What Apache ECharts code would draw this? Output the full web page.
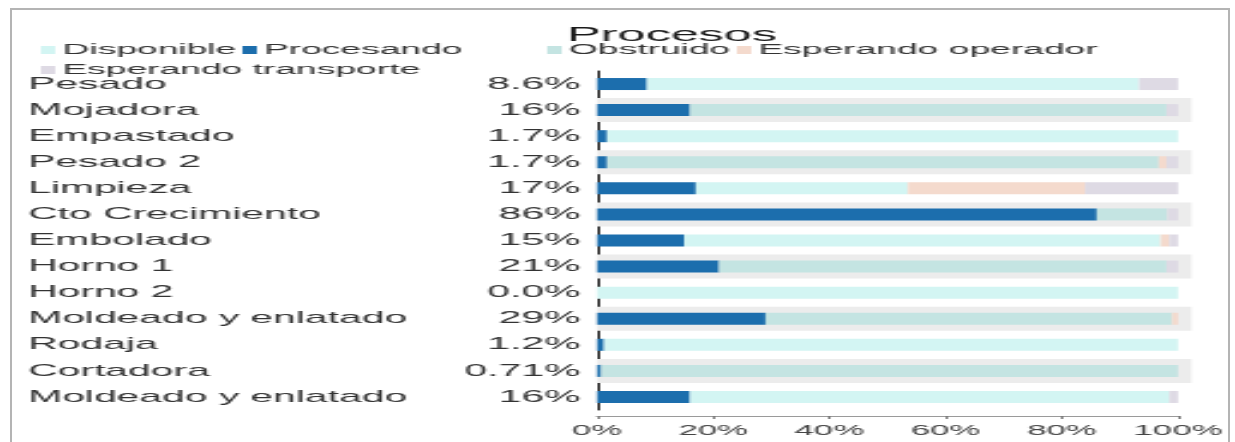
<!DOCTYPE html>
<html>
<head>
<meta charset="utf-8">
<script src="https://cdn.jsdelivr.net/npm/echarts@6/dist/echarts.min.js"></script>
<style>
  html, body { margin: 0; padding: 0; background: #fff; overflow: hidden; }
  #wrap { position: absolute; left: 0; top: 0; width: 1235px; height: 442px; }
  #chart { position: absolute; left: 0; top: 0; width: 514.6px; height: 442px; transform: scaleX(2.4); transform-origin: 0 0; }
  #frame { position: absolute; left: 10px; top: 8px; width: 1216px; height: 450px; border: 2px solid #b4b4b4; pointer-events: none; }
</style>
</head>
<body>
<div id="wrap"><div id="chart"></div><div id="frame"></div></div>
<script>
const categories = ['Pesado', 'Mojadora', 'Empastado', 'Pesado 2', 'Limpieza', 'Cto Crecimiento', 'Embolado', 'Horno 1', 'Horno 2', 'Moldeado y enlatado', 'Rodaja', 'Cortadora', 'Moldeado y enlatado'];
const procesando    = [8.6, 16, 1.7, 1.7, 17, 86, 15, 21, 0, 29, 1.2, 0.71, 16];
const disponible    = [84.7, 0, 98.3, 0, 36.5, 0, 82, 0, 100, 0, 98.8, 0, 82.5];
const obstruido     = [0, 82, 0, 95, 0, 12.2, 0, 77, 0, 70, 0, 99.29, 0];
const espOperador   = [0, 0, 0, 1.3, 30.5, 0, 1.5, 0, 0, 1, 0, 0, 0];
const espTransporte = [6.7, 2, 0, 2, 16, 1.8, 1.5, 2, 0, 0, 0, 0, 1.5];
const seriesNames = ['Disponible', 'Procesando', 'Obstruido', 'Esperando operador', 'Esperando transporte'];
const xTickValues = [0, 20, 40, 60, 80, 100];

const colors = {
  'Disponible': '#d3f5f3',
  'Procesando': '#1c6ead',
  'Obstruido': '#c4e4e2',
  'Esperando operador': '#f4dacd',
  'Esperando transporte': '#dedae4'
};
const pctLabel = v => v.toPrecision(2) + '%';
const FONT = 'Liberation Sans, Arial, sans-serif';

const chart = echarts.init(document.getElementById('chart'), null, { renderer: 'canvas' });

function legendAt(name, left, top) {
  return {
    data: [name], left: left, top: top, orient: 'horizontal', selectedMode: false,
    icon: 'rect', itemWidth: 6, itemHeight: 8, itemGap: 4, padding: 0,
    textStyle: { fontFamily: FONT, fontSize: 15.5, color: '#333', padding: [0, 0, 0, -2] }
  };
}

const stackSeries = [
  ['Procesando', procesando],
  ['Disponible', disponible],
  ['Obstruido', obstruido],
  ['Esperando operador', espOperador],
  ['Esperando transporte', espTransporte]
].map(([name, data]) => ({
  name: name, type: 'bar', stack: 'total', data: data,
  xAxisIndex: 0, yAxisIndex: 0, barWidth: 12,
  itemStyle: { color: colors[name] }, emphasis: { disabled: true }, z: 3
}));

const option = {
  animation: false,
  backgroundColor: '#ffffff',
  title: {
    text: 'Procesos', left: 275, top: 20, textAlign: 'center',
    textStyle: { fontFamily: FONT, fontSize: 21, fontWeight: 'normal', color: '#1a1a1a' }
  },
  legend: [
    legendAt('Disponible', 17, 42),
    legendAt('Procesando', 101, 42),
    legendAt('Obstruido', 228, 42),
    legendAt('Esperando operador', 307, 42),
    legendAt('Esperando transporte', 17, 62)
  ],
  grid: { left: 248.75, right: 24.2, top: 71, bottom: 32, containLabel: false },
  xAxis: [
    {
      type: 'value', min: 0, max: 100, interval: 20, offset: 6,
      axisLine: { show: true, lineStyle: { color: '#9a9a9a', width: 1 } },
      axisTick: { show: true, length: 3, lineStyle: { color: '#777' } },
      splitLine: { show: false },
      axisLabel: { fontFamily: FONT, fontSize: 14.5, color: '#444', margin: 7,
        formatter: v => xTickValues.indexOf(v) >= 0 ? v + '%' : '' }
    },
    { type: 'value', min: 0, max: 100, show: false, gridIndex: 0 }
  ],
  yAxis: [
    {
      type: 'category', data: categories, inverse: true,
      axisLine: { show: true, onZero: false, lineStyle: { color: '#111', width: 1 } },
      axisTick: { show: false },
      axisLabel: { fontFamily: FONT, fontSize: 17, color: '#333', align: 'left', margin: 237,
        formatter: (v, i) => categories[i] }
    },
    {
      type: 'category', data: categories, inverse: true, position: 'left',
      axisLine: { show: false }, axisTick: { show: false },
      axisLabel: { fontFamily: FONT, fontSize: 17, color: '#333', align: 'right', margin: 7,
        formatter: (v, i) => pctLabel(procesando[i]) }
    },
    { type: 'category', data: categories, inverse: true, show: false }
  ],
  series: [
    {
      name: 'band', type: 'bar', xAxisIndex: 1, yAxisIndex: 2, barWidth: 24, clip: false,
      silent: true, z: 1,
      data: categories.map((c, i) => (i % 2 === 1 ? 102.3 : '-')),
      itemStyle: { color: '#ececec' }
    },
    ...stackSeries
  ]
};
chart.setOption(option);
</script>
</body>
</html>
